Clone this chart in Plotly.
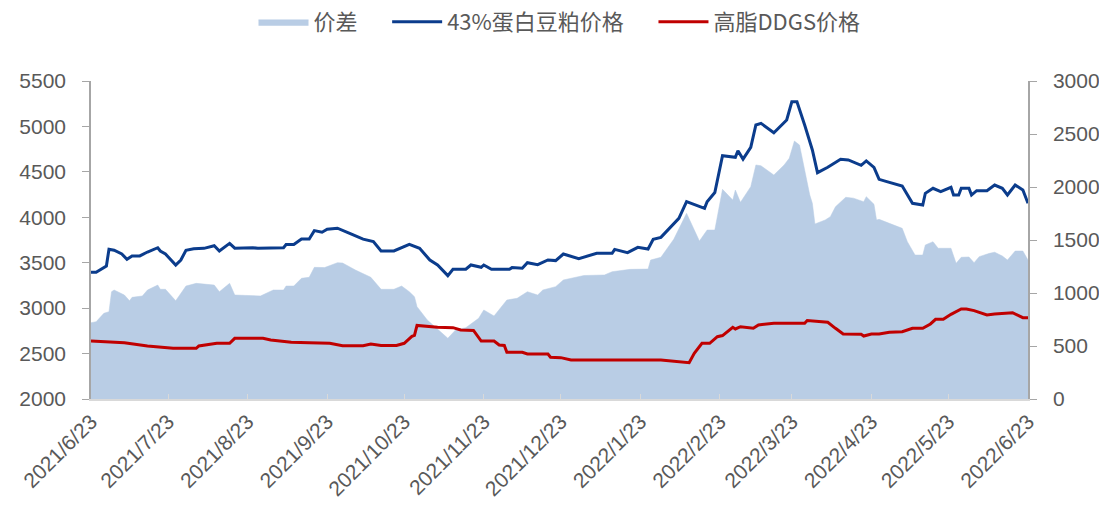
import pandas as pd
import plotly.graph_objects as go

start_date = "2021-06-23"
end_date = "2022-06-23"

# x tick labels
tick_dates = ["2021-06-23", "2021-07-23", "2021-08-23", "2021-09-23", "2021-10-23",
              "2021-11-23", "2021-12-23", "2022-01-23", "2022-02-23", "2022-03-23",
              "2022-04-23", "2022-05-23", "2022-06-23"]
tick_labels = ["2021/6/23", "2021/7/23", "2021/8/23", "2021/9/23", "2021/10/23",
               "2021/11/23", "2021/12/23", "2022/1/23", "2022/2/23", "2022/3/23",
               "2022/4/23", "2022/5/23", "2022/6/23"]

series_names = ["价差", "43%蛋白豆粕价格", "高脂DDGS价格"]

# 43%蛋白豆粕价格 (days since start, value)
meal_days = [0, 2, 6, 7, 9, 12, 14, 16, 19, 22, 26, 27, 29, 33, 35, 37, 40, 44, 48, 50,
             54, 56, 63, 65, 75, 76, 79, 82, 85, 87, 90, 92, 96, 98, 101, 106, 110, 113, 118, 124,
             128, 132, 135, 139, 141, 146, 148, 152, 153, 156, 163, 164, 168, 170, 174, 178, 181, 184, 190, 197,
             203, 204, 209, 213, 217, 219, 222, 229, 232, 239, 240, 243, 246, 251, 252, 254, 257, 259, 261, 266,
             271, 273, 275, 278, 281, 283, 287, 292, 295, 300, 302, 305, 307, 310, 316, 320, 324, 325, 328, 331,
             335, 336, 338, 339, 342, 343, 345, 349, 352, 355, 357, 360, 363, 365]
meal_vals = [3395, 3395, 3464, 3648, 3637, 3596, 3538, 3575, 3575, 3618, 3665, 3629, 3596, 3475, 3530, 3637, 3654, 3658, 3687, 3629,
             3713, 3660, 3665, 3658, 3665, 3700, 3700, 3761, 3761, 3853, 3836, 3868, 3880, 3853, 3820, 3760, 3732, 3629, 3629, 3702,
             3658, 3530, 3475, 3358, 3428, 3428, 3475, 3450, 3475, 3428, 3428, 3446, 3439, 3500, 3479, 3530, 3523, 3596, 3545, 3603,
             3603, 3647, 3611, 3669, 3651, 3757, 3779, 3989, 4172, 4099, 4172, 4272, 4678, 4660, 4733, 4640, 4770, 5016, 5034, 4931,
             5071, 5272, 5272, 5016, 4741, 4491, 4550, 4638, 4631, 4572, 4620, 4550, 4418, 4392, 4344, 4154, 4135, 4264, 4319, 4282,
             4330, 4245, 4245, 4319, 4319, 4245, 4293, 4293, 4355, 4319, 4245, 4355, 4300, 4154]

# 高脂DDGS价格
ddgs_days = [0, 13, 22, 32, 41, 42, 49, 54, 56, 67, 70, 78, 85, 93, 98, 106, 109, 113, 119, 122,
             125, 126, 127, 135, 141, 144, 149, 152, 157, 159, 161, 162, 168, 170, 178, 179, 183, 187, 222, 231,
             233, 235, 238, 241, 244, 246, 250, 251, 253, 258, 260, 266, 278, 279, 287, 290, 293, 300, 301, 304,
             307, 311, 316, 320, 324, 327, 329, 332, 335, 339, 341, 344, 349, 352, 357, 359, 363, 365]
ddgs_vals = [2638, 2620, 2584, 2558, 2558, 2584, 2613, 2613, 2668, 2668, 2650, 2624, 2620, 2613, 2587, 2587, 2606, 2590, 2590, 2613,
             2690, 2700, 2810, 2790, 2785, 2760, 2755, 2638, 2638, 2594, 2590, 2514, 2514, 2495, 2495, 2459, 2455, 2429, 2429, 2400,
             2400, 2503, 2613, 2613, 2686, 2698, 2789, 2771, 2796, 2778, 2815, 2833, 2833, 2863, 2844, 2778, 2716, 2712, 2693, 2716,
             2715, 2734, 2741, 2778, 2778, 2826, 2877, 2877, 2932, 2991, 2991, 2973, 2925, 2936, 2943, 2950, 2895, 2895]

# 价差 (right axis)
spread_days = [0, 2, 5, 7, 8, 9, 13, 15, 16, 20, 22, 26, 27, 29, 33, 35, 37, 41, 46, 48,
               50, 54, 56, 62, 66, 71, 75, 76, 79, 82, 85, 87, 91, 96, 98, 103, 109, 113, 118, 121,
               124, 126, 127, 131, 139, 142, 146, 151, 153, 157, 162, 166, 170, 174, 176, 181, 184, 192, 200, 203,
               210, 217, 218, 222, 227, 232, 237, 240, 243, 246, 250, 251, 253, 257, 259, 261, 266, 270, 272, 274,
               276, 278, 280, 281, 282, 286, 288, 290, 294, 297, 301, 302, 305, 306, 307, 311, 316, 318, 321, 324,
               325, 328, 330, 335, 337, 339, 342, 344, 346, 350, 352, 355, 357, 360, 363, 365]
spread_vals = [720, 729, 808, 824, 1012, 1028, 981, 927, 959, 972, 1028, 1075, 1035, 1035, 927, 997, 1066, 1091, 1075, 1075,
               1012, 1091, 981, 975, 972, 1028, 1028, 1066, 1066, 1139, 1148, 1242, 1240, 1286, 1283, 1217, 1148, 1035, 1035, 1066,
               1012, 965, 871, 745, 573, 651, 673, 761, 840, 783, 934, 950, 1012, 981, 1028, 1060, 1123, 1165, 1170, 1201,
               1223, 1226, 1311, 1337, 1507, 1752, 1490, 1594, 1594, 1978, 1877, 1972, 1855, 2003, 2208, 2200, 2113, 2208, 2271, 2434,
               2396, 2160, 1924, 1846, 1651, 1689, 1720, 1814, 1903, 1895, 1861, 1909, 1837, 1689, 1695, 1657, 1610, 1484, 1358, 1358,
               1453, 1484, 1422, 1422, 1280, 1337, 1340, 1286, 1343, 1374, 1385, 1349, 1311, 1396, 1396, 1311]


def to_dates(days):
    return pd.Timestamp(start_date) + pd.to_timedelta(days, unit="D")


FONT = "Liberation Sans, Arial, Noto Sans CJK SC, sans-serif"
GRAY = "#595959"
PAD = "\u00a0" * 5

fig = go.Figure()
fig.add_trace(go.Scatter(
    x=to_dates(spread_days), y=spread_vals, name=series_names[0] + PAD, mode="lines",
    fill="tozeroy", fillcolor="#b9cde5", line=dict(color="#b9cde5", width=0.5),
    yaxis="y"))
fig.add_trace(go.Scatter(
    x=to_dates(meal_days), y=meal_vals, name=series_names[1] + PAD, mode="lines",
    line=dict(color="#0b3c8c", width=3), yaxis="y2"))
fig.add_trace(go.Scatter(
    x=to_dates(ddgs_days), y=ddgs_vals, name=series_names[2], mode="lines",
    line=dict(color="#c00000", width=3), yaxis="y2"))

axis_style = dict(showline=True, linecolor="#a6a6a6", linewidth=1.5, ticks="outside",
                  tickcolor="#a6a6a6", ticklen=7, showgrid=False, zeroline=False,
                  automargin=False, ticklabelstandoff=12,
                  tickfont=dict(family=FONT, size=21, color=GRAY), dtick=500)

fig.update_layout(
    width=1099, height=506,
    margin=dict(l=91, r=71, t=81, b=107, autoexpand=False),
    paper_bgcolor="white", plot_bgcolor="white",
    font=dict(family=FONT, color=GRAY),
    showlegend=True,
    legend=dict(orientation="h", x=0.5, xanchor="center", xref="paper",
                y=1 - 22 / 506, yanchor="middle", yref="container",
                font=dict(family="Noto Sans CJK SC, Liberation Sans", size=22, color=GRAY),
                traceorder="normal", itemwidth=50, bgcolor="rgba(0,0,0,0)"),
    xaxis=dict(type="date", range=[start_date, end_date], tickvals=tick_dates,
               ticktext=tick_labels, tickangle=-45, showline=True, linecolor="#d9d9d9",
               linewidth=2, ticks="inside", tickcolor="#d9d9d9", ticklen=5,
               showgrid=False, zeroline=False, automargin=False,
               tickfont=dict(family=FONT, size=21, color=GRAY)),
    yaxis=dict(range=[0, 3000], side="right", **axis_style),
    yaxis2=dict(range=[2000, 5500], side="left", overlaying="y", **axis_style),
)

fig.write_html("out.html", config={"displayModeBar": False},
               post_script="document.body.style.margin='0';")
